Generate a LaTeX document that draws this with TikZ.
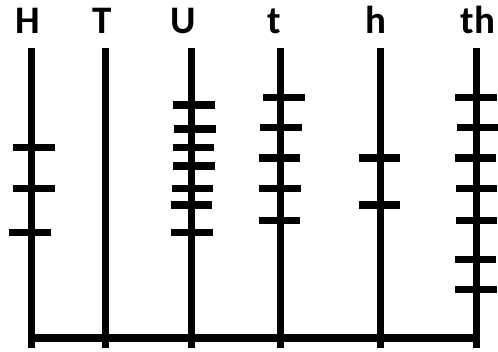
\documentclass[tikz,border=0pt]{standalone}
\usepackage{fontspec}
\newfontfamily\labelfont{Carlito}
\usepackage{tikz}
\usetikzlibrary{positioning,calc}

\begin{document}
\begin{tikzpicture}[
    x=1pt, y=-1pt,
    rod/.style={line width=7pt, black},
    bead/.style={line width=7.5pt, black},
    base/.style={line width=8pt, black},
    lbl/.style={font=\labelfont\bfseries\fontsize{39}{39}\selectfont, inner sep=0pt, anchor=base}
]
    \useasboundingbox (0,0) rectangle (498,351);

    % column labels
    \node[lbl] (lblH) at (28.3,33.3) {H};
    \node[lbl] (lblT) at (102.5,33.3) {T};
    \node[lbl] (lblU) at (183.3,33.3) {U};
    \node[lbl] (lblt) at (274,33.3) {t};
    \node[lbl] (lblh) at (376.3,33.3) {h};
    \node[lbl] (lblth) at (478,33.3) {th};

    % rod ends
    \coordinate (topH) at (31.7,48);   \coordinate (botH) at (31.7,348);
    \coordinate (topT) at (105,48);    \coordinate (botT) at (105,348);
    \coordinate (topU) at (191.7,48);  \coordinate (botU) at (191.7,348);
    \coordinate (topt) at (280.3,48);  \coordinate (bott) at (280.3,348);
    \coordinate (toph) at (380.3,48);  \coordinate (both) at (380.3,348);
    \coordinate (topth) at (476.3,48); \coordinate (botth) at (476.3,348);

    % frame
    \coordinate (baseL) at (28.2,337.7);
    \coordinate (baseR) at (479.8,337.7);
    \draw[base] (baseL) -- (baseR);

    \draw[rod] (topH) -- (botH);
    \draw[rod] (topT) -- (botT);
    \draw[rod] (topU) -- (botU);
    \draw[rod] (topt) -- (bott);
    \draw[rod] (toph) -- (both);
    \draw[rod] (topth) -- (botth);

    % beads
    \foreach \yy/\xa/\xb in {147.7/13.3/55, 188.3/13.3/55, 232.7/9.3/50.7}
        \draw[bead] (\xa,\yy) -- (\xb,\yy);
    \foreach \yy/\xa/\xb in {105/173.3/215, 129/174.3/216, 147.7/172.7/214, 166/173.3/215,
                             188.3/172/213.3, 205/170.7/212.3, 232.7/171.3/213.3}
        \draw[bead] (\xa,\yy) -- (\xb,\yy);
    \foreach \yy/\xa/\xb in {97.3/263/304.7, 127.7/260.3/302, 158/258.7/300.3,
                             188.3/259.3/301, 220.3/258.7/300.3}
        \draw[bead] (\xa,\yy) -- (\xb,\yy);
    \foreach \yy/\xa/\xb in {158/358.7/400.3, 205/358.7/400.3}
        \draw[bead] (\xa,\yy) -- (\xb,\yy);
    \foreach \yy/\xa/\xb in {97.3/455.3/497, 127.7/457/498, 158/454.7/496.3, 188.3/456/497,
                             220.3/456/497, 259.3/454.7/496.3, 289.3/455.3/497}
        \draw[bead] (\xa,\yy) -- (\xb,\yy);
\end{tikzpicture}
\end{document}
